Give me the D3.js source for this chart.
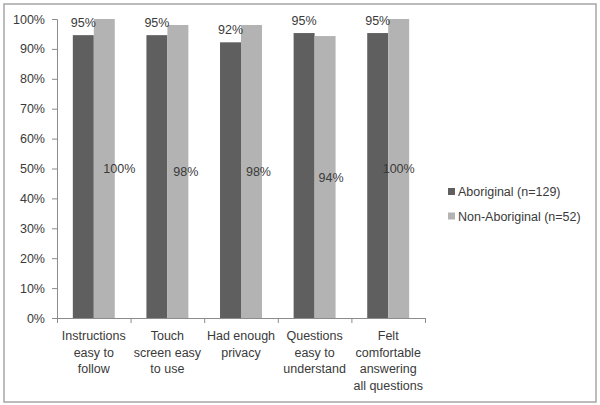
<!DOCTYPE html>
<html>
<head>
<meta charset="utf-8">
<script src="https://cdn.jsdelivr.net/npm/d3@7"></script>
<style>
  body { margin: 0; background: #fff; }
  text { font-family: "Liberation Sans", Arial, sans-serif; fill: #3a3a3a; }
</style>
</head>
<body>
<div id="chart"></div>
<script>
// chart data
const categories = [
    ["Instructions", "easy to", "follow"],
    ["Touch", "screen easy", "to use"],
    ["Had enough", "privacy"],
    ["Questions", "easy to", "understand"],
    ["Felt", "comfortable", "answering", "all questions"]
];
const seriesNames = ["Aboriginal (n=129)", "Non-Aboriginal (n=52)"];
const aboriginal = [94.6, 94.6, 92.2, 95.3, 95.3];
const nonAboriginal = [100, 98, 98, 94.3, 100];
const aboriginalLabels = ["95%", "95%", "92%", "95%", "95%"];
const nonAboriginalLabels = ["100%", "98%", "98%", "94%", "100%"];
const yTicks = [0, 10, 20, 30, 40, 50, 60, 70, 80, 90, 100];

// the light labels were dragged sideways in the original
const lightLabelNudge = [15, 8, 7, 6, 0];

const colors = ["#5f5f5f", "#b3b3b3"];

const W = 600, H = 405;
const plot = { left: 57, right: 425, top: 19, bottom: 318 };

const svg = d3.select("#chart")
    .append("svg")
    .attr("width", W)
    .attr("height", H);

// outer frame
svg.append("rect")
    .attr("x", 4).attr("y", 4)
    .attr("width", 592).attr("height", 398)
    .attr("fill", "none")
    .attr("stroke", "#a6a6a6")
    .attr("stroke-width", 1.5);

const x0 = d3.scaleBand()
    .domain(d3.range(categories.length))
    .range([plot.left, plot.right])
    .paddingInner(0.43)
    .paddingOuter(0.215);

const x1 = d3.scaleBand()
    .domain([0, 1])
    .range([0, x0.bandwidth()]);

const y = d3.scaleLinear()
    .domain([0, 100])
    .range([plot.bottom, plot.top]);

// y axis
const yAxis = svg.append("g")
    .attr("transform", `translate(${plot.left},0)`)
    .call(d3.axisLeft(y)
        .tickValues(yTicks)
        .tickFormat(d => d + "%")
        .tickSize(5)
        .tickPadding(7));
yAxis.select(".domain").attr("stroke", "#8c8c8c");
yAxis.selectAll(".tick line").attr("stroke", "#8c8c8c");
yAxis.selectAll("text")
    .attr("font-size", 12.5)
    .style("font-family", "'Liberation Sans', Arial, sans-serif")
    .attr("fill", "#3a3a3a");

// bars
const groups = svg.append("g")
    .selectAll("g")
    .data(categories)
    .join("g")
    .attr("transform", (d, i) => `translate(${x0(i)},0)`);

const seriesVals = [aboriginal, nonAboriginal];

groups.selectAll("rect")
    .data((d, i) => seriesVals.map((s, k) => ({ k, v: s[i] })))
    .join("rect")
    .attr("x", d => x1(d.k))
    .attr("y", d => y(d.v))
    .attr("width", x1.bandwidth())
    .attr("height", d => y(0) - y(d.v))
    .attr("fill", d => colors[d.k]);

// x axis (band boundaries as ticks)
const xEdge = d3.scaleLinear()
    .domain([0, categories.length])
    .range([plot.left, plot.right]);
const xAxis = svg.append("g")
    .attr("transform", `translate(0,${plot.bottom})`)
    .call(d3.axisBottom(xEdge)
        .tickValues(d3.range(categories.length + 1))
        .tickFormat("")
        .tickSizeOuter(0)
        .tickSize(5));
xAxis.select(".domain").attr("stroke", "#8c8c8c");
xAxis.selectAll(".tick line").attr("stroke", "#8c8c8c");

// category labels
svg.append("g")
    .selectAll("text")
    .data(categories)
    .join("text")
    .attr("text-anchor", "middle")
    .attr("font-size", 12.5)
    .attr("x", (d, i) => x0(i) + x0.bandwidth() / 2)
    .attr("y", 340)
    .selectAll("tspan")
    .data(d => d)
    .join("tspan")
    .attr("x", function () { return this.parentNode.getAttribute("x"); })
    .attr("dy", (d, j) => j === 0 ? 0 : 16.7)
    .text(d => d);

// value labels: dark series above bars
svg.append("g")
    .selectAll("text")
    .data(aboriginalLabels)
    .join("text")
    .attr("text-anchor", "middle")
    .attr("font-size", 12.5)
    .attr("x", (d, i) => x0(i) + x1(0) + x1.bandwidth() / 2)
    .attr("y", (d, i) => y(aboriginal[i]) - 8)
    .text(d => d);

// value labels: light series centred on bars
svg.append("g")
    .selectAll("text")
    .data(nonAboriginalLabels)
    .join("text")
    .attr("text-anchor", "middle")
    .attr("font-size", 12.5)
    .attr("x", (d, i) => x0(i) + x1(1) + x1.bandwidth() / 2 + lightLabelNudge[i])
    .attr("y", (d, i) => (y(nonAboriginal[i]) + y(0)) / 2 + 4.5)
    .text(d => d);

// legend
const legend = svg.append("g")
    .selectAll("g")
    .data(seriesNames)
    .join("g")
    .attr("transform", (d, i) => `translate(448,${191.5 + i * 24.5})`);
legend.append("rect")
    .attr("x", 0).attr("y", -3.5)
    .attr("width", 7).attr("height", 7)
    .attr("fill", (d, i) => colors[i]);
legend.append("text")
    .attr("x", 10)
    .attr("y", 4.5)
    .attr("font-size", 12.5)
    .text(d => d);
</script>
</body>
</html>
